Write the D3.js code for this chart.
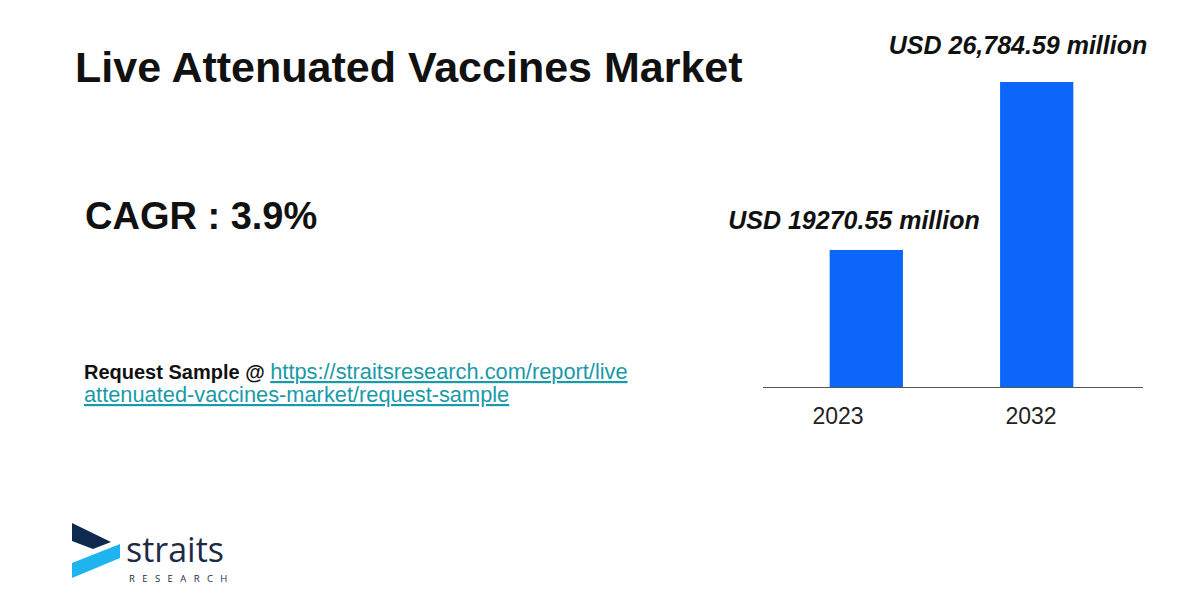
<!DOCTYPE html>
<html>
<head>
<meta charset="utf-8">
<script src="https://cdn.jsdelivr.net/npm/d3@7"></script>
<style>
  html, body { margin: 0; padding: 0; background: #ffffff; }
  svg { display: block; font-family: "Liberation Sans", Arial, sans-serif; }
</style>
</head>
<body>
<svg id="chart" width="1200" height="600"></svg>
<script>
const years = ["2023", "2032"];
const values = [19270.55, 26784.59];
const valueLabels = ["USD 19270.55 million", "USD 26,784.59 million"];
const title = "Live Attenuated Vaccines Market";
const cagrText = "CAGR : 3.9%";

const svg = d3.select("#chart");

svg.append("rect").attr("width", 1200).attr("height", 600).attr("fill", "#ffffff");

// Title & CAGR
svg.append("text").attr("x", 75).attr("y", 82)
  .attr("font-size", 43).attr("font-weight", "bold").attr("fill", "#111")
  .text(title);
svg.append("text").attr("x", 85).attr("y", 229)
  .attr("font-size", 38).attr("font-weight", "bold").attr("fill", "#111")
  .text(cagrText);

// Request sample
const req = svg.append("text").attr("x", 84).attr("y", 379);
req.append("tspan").attr("font-size", 20).attr("font-weight", "bold").attr("fill", "#111").text("Request Sample @ ");
req.append("tspan").attr("font-size", 21.8).attr("fill", "#1a9aa8").attr("text-decoration", "underline")
  .text("https://straitsresearch.com/report/live");
svg.append("text").attr("x", 84).attr("y", 402).attr("font-size", 21.8)
  .attr("fill", "#1a9aa8").attr("text-decoration", "underline")
  .text("attenuated-vaccines-market/request-sample");

// Chart
const baseY = 387;
const x = d3.scaleBand().domain(years).range([763, 1143]).paddingInner(0.57).paddingOuter(0.4);
const y = d3.scaleLinear().domain([13140, 26784.59]).range([baseY, 82]);
const labelX = d3.scalePoint().domain(years).range([838, 1031]);

svg.append("g").selectAll("rect").data(years).join("rect")
  .attr("x", d => x(d) - 1.5)
  .attr("width", x.bandwidth())
  .attr("y", (d, i) => y(values[i]))
  .attr("height", (d, i) => baseY - y(values[i]))
  .attr("fill", "#0d66fb");

svg.append("line").attr("x1", 763).attr("x2", 1143).attr("y1", baseY + 0.5).attr("y2", baseY + 0.5)
  .attr("stroke", "#555").attr("stroke-width", 1.2);

svg.append("g").selectAll("text").data(years).join("text")
  .attr("x", d => labelX(d)).attr("y", 424)
  .attr("text-anchor", "middle").attr("font-size", 23).attr("fill", "#222")
  .text(d => d);

const labelPos = [854, 1018];
const labelOff = [21, 28];
svg.append("g").selectAll("text").data(valueLabels).join("text")
  .attr("x", (d, i) => labelPos[i])
  .attr("y", (d, i) => y(values[i]) - labelOff[i])
  .attr("text-anchor", "middle").attr("font-size", 25).attr("font-weight", "bold")
  .attr("font-style", "italic").attr("fill", "#111")
  .text(d => d);

// Logo
const logo = svg.append("g");
logo.append("polygon").attr("points", "72,523 111,542 93,549 72,541").attr("fill", "#0f2a4f");
logo.append("polygon").attr("points", "72,563 120,544 120,558 72,578").attr("fill", "#1eb4ef");
logo.append("text").attr("x", 126).attr("y", 562).attr("font-family", "'Open Sans', sans-serif")
  .attr("font-size", 34).attr("fill", "#1c2b45").text("straits");
logo.append("text").attr("x", 129).attr("y", 582).attr("font-family", "'Open Sans', sans-serif")
  .attr("font-size", 9.5).attr("letter-spacing", 7.4).attr("fill", "#1c2b45").text("RESEARCH");
</script>
</body>
</html>
